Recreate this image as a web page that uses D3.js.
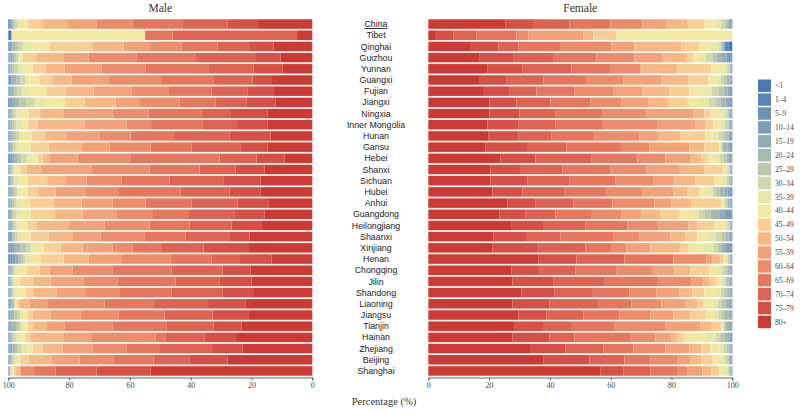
<!DOCTYPE html>
<html><head><meta charset="utf-8">
<script src="https://cdn.jsdelivr.net/npm/d3@7"></script>
<style>body{margin:0;background:#fff}</style>
</head><body>
<svg id="chart" width="800" height="412"></svg>
<script>
const provinces = ["China","Tibet","Qinghai","Guizhou","Yunnan","Guangxi","Fujian","Jiangxi","Ningxia","Inner Mongolia","Hunan","Gansu","Hebei","Shanxi","Sichuan","Hubei","Anhui","Guangdong","Heilongjiang","Shaanxi","Xinjiang","Henan","Chongqing","Jilin","Shandong","Liaoning","Jiangsu","Tianjin","Hainan","Zhejiang","Beijing","Shanghai"];
const ageGroups = ["<1","1\u20134","5\u20139","10\u201314","15\u201319","20\u201324","25\u201329","30\u201334","35\u201339","40\u201344","45\u201349","50\u201354","55\u201359","60\u201364","65\u201369","70\u201374","75\u201379","80+"];
const ageColors = ["#4a78b4","#5a85b8","#6c92b8","#7e9eb6","#92abb4","#a6b9b1","#bbc8ad","#d0d8ab","#e5e8ab","#f3e8a2","#f8cf94","#f6b985","#f1a278","#eb8c6a","#e4775e","#dd6352","#d55046","#cc3a35"];
const tickValues = [0, 20, 40, 60, 80, 100];

// shares (%) per province, in ageGroups order (<1 ... 80+)
const maleShares = [
 [.3,.2,.2,.2,.3,.5,.6,.8,1.4,2.0,4.9,8.2,9.5,11.6,16.4,14.8,9.8,18.1],
 [1,0,0,0,0,0,0,0,0,44,0,0,0,0,9,41,0,5],
 [.2,.2,.2,.3,.5,.8,1,1.6,3.3,5.5,14.3,10.4,8.8,10.4,12.1,10.4,8.2,12.8],
 [.1,.1,.2,.3,.6,.8,.7,.5,.5,1.1,4.4,9.3,8.2,15.9,19.7,20.3,8.2,10.6],
 [.1,.1,.1,.2,.3,.6,.8,1.1,1.6,3.3,4.4,6.6,12.6,14.8,21.4,15.4,9.9,10.1],
 [.1,.2,.3,.5,.8,1,1.2,1.6,1.6,3.3,4.4,6.6,12.6,18.1,18.1,13.2,6.4,14.1],
 [.1,.1,.2,.3,.5,.8,1,1.5,2.7,5.5,6.6,9.3,12.6,12.6,14.3,12.1,8.8,12.8],
 [.3,.2,.3,.5,1,1.5,2.2,2.7,3.3,7.1,6.6,10.4,8.2,13.2,12.1,10.4,9.9,12.3],
 [.1,.1,.1,.2,.3,.4,.5,.8,1.6,2.7,3.8,7.7,16.4,12.1,17.5,9.9,12.1,15],
 [.1,.1,.1,.2,.3,.5,.6,.8,1.6,2.2,3.3,15.9,14.3,8.2,17.5,11.5,10.4,15],
 [.1,.1,.2,.3,.4,.6,.8,1.1,1.5,2.7,4.4,7.1,11,10.4,14.8,18.1,13.7,13.9],
 [.1,.1,.1,.2,.3,.4,.5,.8,1.2,3.8,6,11,9.3,13.7,13.7,16.4,8.8,15],
 [.3,.2,.3,.5,.8,1,1.2,1.5,2.2,1.6,1.6,2.2,9.3,17.5,29,12.1,9.3,9],
 [.1,.1,.1,.1,.2,.3,.3,.4,.8,1.6,2.2,4.9,17,19.7,17,12.1,9.9,16.1],
 [.1,.1,.1,.2,.3,.3,.4,.5,1.6,2.7,6.6,6,7.1,11.5,15.9,18.1,12.1,17.2],
 [.1,.1,.2,.3,.4,.5,.6,.8,1.3,2.2,3.3,6,9.9,11,20.8,16.4,10.4,17.2],
 [.1,.1,.1,.2,.3,.5,.6,.8,1.6,2.7,8.2,9.3,10.4,11,15.4,15.4,10.4,14.5],
 [.2,.1,.1,.2,.3,.4,.5,.8,1.6,3.3,8.2,9.3,11.5,12.1,12.1,15.4,9.9,16.1],
 [.1,.1,.1,.2,.4,.6,.5,.7,1.1,2.7,3.3,11,12.1,15.4,13.7,14.3,10.4,17.2],
 [.2,.2,.2,.3,.4,.5,.6,.8,1.6,2.7,6,8.2,9.3,14.8,13.7,14.8,6.6,21],
 [.2,.3,.3,.5,1,2,2,1.5,1.5,3,6,7.7,10.4,7.1,9.9,14.8,15.9,22.1],
 [.3,.4,.6,1,1,.8,.8,.8,1.5,3.3,7.7,8.2,11,15.9,13.7,9.3,10.4,13.4],
 [.1,.1,.1,.2,.3,.4,.5,.5,1.1,2.7,4.4,3.3,7.7,13.2,19.7,17,9.3,20.5],
 [.1,.1,.1,.1,.2,.3,.3,.5,.8,1.5,4.4,6,11,11.5,19.7,14.8,11,20.5],
 [.1,.1,.1,.1,.2,.3,.5,.6,.8,3,2.5,7.7,9.9,11,17.5,17,10.4,19.4],
 [.1,.1,.1,.3,.5,.5,.3,.3,.3,.5,.8,3.3,6,18.6,16.4,17.5,12.6,22.1],
 [.1,.1,.2,.3,.5,.8,.9,1,1.2,1.4,1.5,6,9.9,12.6,15.4,15.9,12.1,21],
 [.1,.1,.1,.3,.7,1.3,1,.7,1,1.3,2,4.4,6,15.9,18.1,15.9,9.3,23.8],
 [.1,.1,.1,.2,.3,.4,.5,.8,1.6,1.6,1.6,11,9.3,21.4,3.3,13.2,10.4,25.4],
 [.1,.1,.2,.4,.6,.8,1,1.2,1.5,2.2,3.3,6.6,9.9,11.5,11,17,10.4,23.2],
 [.1,.1,.1,.1,.2,.3,.4,.6,1,1.1,2.7,7.7,9.3,11.5,13.2,12.1,12.6,28.2],
 [.1,.1,.1,.1,.1,.1,.1,.2,.3,.6,.8,1.1,.5,4.4,7.1,13.7,18.1,53.9]
];
const femaleShares = [
 [.1,.1,.2,.3,.4,.6,.8,1.2,2.2,3.3,5.7,6.7,8.1,10.4,13.5,12.1,9,25.5],
 [0,0,0,0,0,0,0,0,0,38,7.7,3.3,18,3.9,13.1,7.7,6,2.2],
 [1.2,1.2,.3,.3,.3,.3,.3,.5,3.3,3.3,6,15.9,7.7,17,14.3,6.6,9.3,14.3],
 [.3,.3,.5,.8,1.5,1.7,1.5,2.2,2.2,1.8,2,8.2,9.3,12.6,14.3,13.2,11,17],
 [.1,.1,.1,.1,.2,.3,.3,.5,1.2,4,11.5,11.7,.5,10,12.8,16.4,11.5,19.7],
 [.1,.1,.1,.2,.5,.8,1,1,1.7,2.5,6.6,8.8,12.6,12.8,13.8,12.1,9.2,16.8],
 [.1,.1,.2,.4,.8,1.3,1.5,2.3,3,4.4,6.6,9,9.6,12.6,12.6,9,8.3,18.3],
 [.3,.3,.3,.5,.8,1.7,1.6,2.4,2.5,4.4,6.6,6.6,8.8,10.4,13.2,11.3,9,20.3],
 [.1,.1,.1,.2,.3,.4,.4,.5,2.1,3,2,3.8,15.4,14.8,15.4,12.1,9.9,20.3],
 [.1,.1,.1,.2,.3,.4,.5,.8,1.3,2.5,2.5,3.6,12.4,18.3,15.7,12.5,10.2,19.7],
 [.1,.1,.2,.3,.5,.8,1,1.5,2,2.4,8.3,7.3,6,15.1,13.9,11,9.9,19.7],
 [.1,.1,.2,.4,.8,1.5,.3,.3,.3,.3,5.1,5,13.2,9.3,18.6,12.8,14.3,19],
 [.1,.1,.1,.4,.4,.8,1,1.4,1.6,2.2,2.2,3.8,8.2,9.3,15.4,18.6,11.5,24.1],
 [.1,.1,.1,.1,.2,.3,.3,.4,.5,1.1,6,8.2,11,12.1,15.9,13.7,10.1,20.6],
 [.1,.1,.1,.1,.1,.2,.4,.8,1.5,2.5,6.4,6.8,6.9,12.6,15.4,13.7,12.3,20.6],
 [.3,.3,.4,.6,1,1.5,1.3,1,1.5,3.1,3.8,4.7,10.3,11.8,13.9,13.7,9.9,21.2],
 [.1,.1,.1,.3,.4,.5,.5,.4,.4,.8,10.1,6.6,5.5,13.9,12.9,12.6,9.3,26.3],
 [.3,.3,.5,1,2,3,2,2,2,4.4,6.6,6.3,6.4,9.9,12.1,9.9,8.8,23.6],
 [.1,.1,.1,.1,.2,.3,.3,.5,1.2,3,5.6,3,9.9,10.3,14,14,10.6,27.4],
 [.1,.1,.2,.3,.5,1,1.2,2.1,2.5,3.6,3.8,5,10.2,8.8,17.5,11,11,21.6],
 [.2,.3,.5,.8,1,1,1.2,1.2,3.8,4.7,3,9.9,8.2,4.9,9,16,15.4,21.6],
 [.1,.1,.1,.1,.2,.2,.3,.4,.6,.8,1.2,2.4,2,11,16.2,15.9,12.5,36.5],
 [.1,.1,.1,.2,.4,.6,.8,1,1.5,2.7,6.4,5.2,7.1,12.1,13.4,12.4,8.8,27.4],
 [.1,.1,.1,.1,.3,.6,.7,.6,1.3,1.4,2.2,2,4,11.3,17.2,17,13.4,27.7],
 [.1,.1,.1,.2,.4,.8,1,1.2,1.5,3.8,4,4.2,7.7,8.8,12.1,12.6,11,30.7],
 [.1,.1,.1,.3,.5,1.2,1.3,1.3,1.6,2.9,2,3.8,8.2,9.9,11,15.9,12.3,27.7],
 [.1,.1,.1,.3,.6,1.2,1,1.2,1.6,2.5,5,5.7,7.5,10.3,11.8,12.1,9.3,29.6],
 [.1,.1,.1,.2,.6,1,.6,.3,.3,.5,3,3.8,11.5,17.2,14,9.3,9.9,28.5],
 [.2,.2,.2,.3,.5,1,1.6,1.5,3.3,7.2,2,2,5.3,8.2,18.6,8.2,12.3,27.7],
 [.1,.1,.1,.2,.3,.5,.5,1,1.5,3,3,3.9,8,10.6,9.9,12.6,11.8,33.7],
 [.1,.1,.1,.2,.3,.4,.5,.8,1.6,2.5,3.8,3.7,4.5,9,8.8,11.8,15.4,38.9],
 [.1,.1,.1,.1,.2,.2,.3,.5,1.2,1.5,2.6,3.1,4.9,3.3,9.1,9,7.7,57.6]
];

const svg = d3.select("#chart");
const serif = "'Liberation Serif','Times New Roman',serif";
const sans = "'Liberation Sans',Arial,sans-serif";

const y = d3.scaleBand().domain(provinces).range([18.5, 376.5]).paddingInner(0.15).paddingOuter(0.07);
const color = d3.scaleOrdinal().domain(ageGroups).range(ageColors);
const stack = d3.stack().keys(ageGroups.slice().reverse()).offset(d3.stackOffsetExpand);

function toRows(shares) {
  return provinces.map((p, i) => {
    const o = {province: p};
    ageGroups.forEach((g, j) => { o[g] = shares[i][j]; });
    return o;
  });
}

function panel(shares, range, title) {
  const x = d3.scaleLinear().domain([0, 1]).range(range);
  const series = stack(toRows(shares));
  const g = svg.append("g");
  g.selectAll("g").data(series).join("g")
    .attr("fill", d => color(d.key))
    .selectAll("rect").data(d => d).join("rect")
    .attr("x", d => Math.min(x(d[0]), x(d[1])))
    .attr("width", d => Math.abs(x(d[1]) - x(d[0])))
    .attr("y", d => y(d.data.province))
    .attr("height", y.bandwidth());

  const xa = d3.scaleLinear().domain([0, 100]).range(range);
  const ax = svg.append("g").attr("transform", "translate(0,377.5)")
    .call(d3.axisBottom(xa).tickValues(tickValues).tickSize(3).tickPadding(1.5));
  ax.select(".domain").attr("stroke", "#666");
  ax.selectAll(".tick line").attr("stroke", "#666");
  ax.selectAll(".tick text").attr("font-family", serif).attr("font-size", 8).attr("fill", "#444");

  svg.append("text").attr("x", (range[0] + range[1]) / 2).attr("y", 12)
    .attr("text-anchor", "middle").attr("font-family", serif).attr("font-size", 11.5)
    .attr("fill", "#333").text(title);
}

panel(maleShares, [312.3, 8.3], "Male");
panel(femaleShares, [428.3, 732.3], "Female");

svg.append("g").selectAll("text").data(provinces).join("text")
  .attr("x", 376).attr("y", d => y(d) + y.bandwidth() / 2)
  .attr("dy", "0.35em").attr("text-anchor", "middle")
  .attr("font-family", sans).attr("font-size", 8.8).attr("fill", "#222")
  .attr("text-decoration", (d, i) => i === 0 ? "underline" : null)
  .text(d => d);

svg.append("text").attr("x", 384).attr("y", 405).attr("text-anchor", "middle")
  .attr("font-family", serif).attr("font-size", 10.5).attr("fill", "#333")
  .text("Percentage (%)");

const leg = svg.append("g");
const ly = d3.scalePoint().domain(ageGroups).range([85.7, 322]);
leg.selectAll("rect").data(ageGroups).join("rect")
  .attr("x", 758).attr("y", d => ly(d) - 6.2).attr("width", 13).attr("height", 12.4)
  .attr("fill", d => color(d));
leg.selectAll("text").data(ageGroups).join("text")
  .attr("x", 775).attr("y", d => ly(d)).attr("dy", "0.35em")
  .attr("font-family", serif).attr("font-size", 7.5).attr("fill", "#444")
  .text(d => d);
</script>
</body></html>
